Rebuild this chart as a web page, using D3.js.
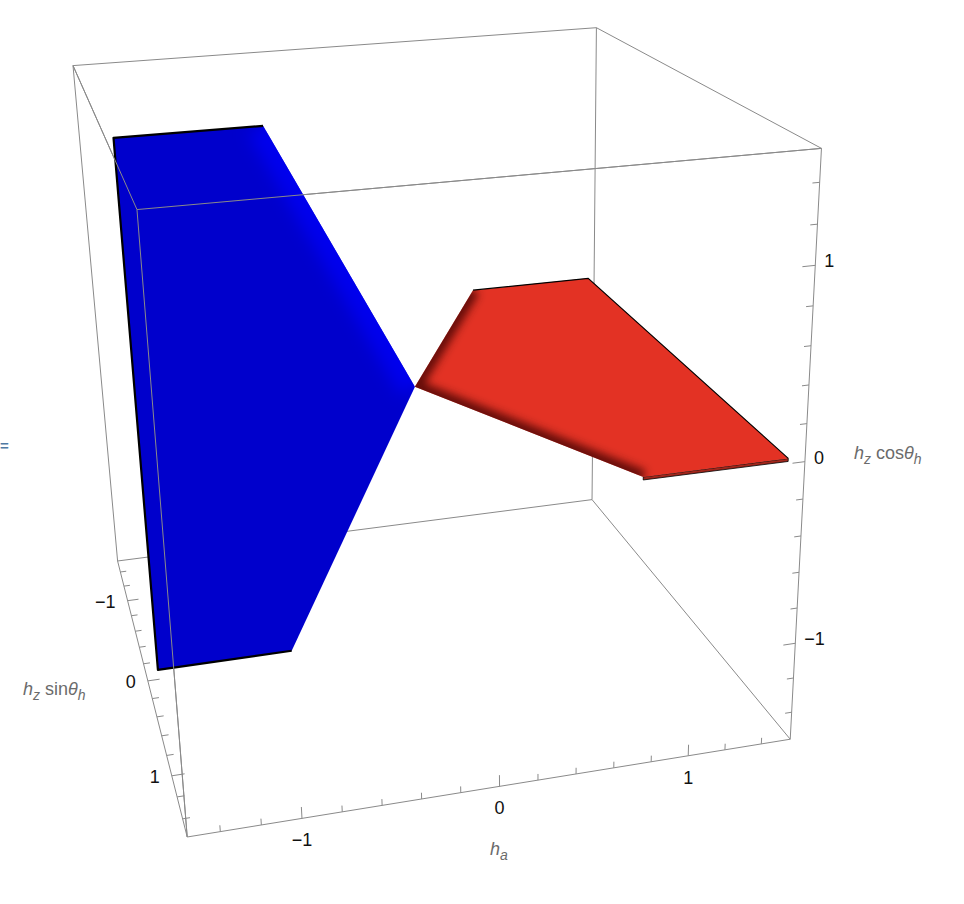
<!DOCTYPE html>
<html>
<script src="https://cdn.jsdelivr.net/npm/d3@7"></script>
<style>
  body { margin: 0; background: white; }
  text { font-family: "Liberation Sans", Arial, sans-serif; }
</style>
<body>
<svg width="964" height="904"></svg>
<script>
// plot range and ticks (same for the three axes)
const rangeMin = -1.56, rangeMax = 1.56;
const majorTicks = [-1, 0, 1];
const minorTicks = [-1.4, -1.2, -0.8, -0.6, -0.4, -0.2, 0.2, 0.4, 0.6, 0.8, 1.2, 1.4];
const tickLabels = ["\u22121", "0", "1"];

// blue sheet: h_a, h_z sin(theta_h), h_z cos(theta_h)
const blueHa  = [-1.5, -0.75, 0, -0.75, -1.5];
const blueSin = [0, 0, 0, 0, 0];
const blueCos = [1.5, 1.5, 0, -1.5, -1.5];
// red sheet
const redHa  = [0, 0.75, 1.5, 1.5, 0.75];
const redSin = [0, -1.5, -1.5, 1.5, 1.5];
const redCos = [0, 0, 0, 0, 0];

const svg = d3.select("svg");
const xs = d3.scaleLinear().domain([rangeMin, rangeMax]).range([-1, 1]);
const ys = xs.copy(), zs = xs.copy();

// where the corners of the unit box land on the page
const view = [
  [-1,-1, 1,  72,  66], [ 1,-1, 1, 597,  28], [ 1, 1, 1, 821, 148], [-1, 1, 1, 138, 209],
  [-1,-1,-1, 118, 561], [ 1,-1,-1, 592, 499], [ 1, 1,-1, 790, 740], [-1, 1,-1, 187, 837]
];

// least squares fit of a perspective camera to those corners
function fitCamera(pts) {
  const rows = [], rhs = [];
  pts.forEach(p => {
    const [X, Y, Z] = p, u = (p[3] - 480) / 400, v = (p[4] - 450) / 400;
    rows.push([X, Y, Z, 1, 0, 0, 0, 0, -u*X, -u*Y, -u*Z]); rhs.push(u);
    rows.push([0, 0, 0, 0, X, Y, Z, 1, -v*X, -v*Y, -v*Z]); rhs.push(v);
  });
  const n = 11;
  const A = d3.range(n).map(i => d3.range(n).map(j => d3.sum(rows, r => r[i]*r[j])));
  const b = d3.range(n).map(i => d3.sum(rows, (r, k) => r[i]*rhs[k]));
  for (let c = 0; c < n; c++) {
    let piv = c;
    for (let r = c + 1; r < n; r++) if (Math.abs(A[r][c]) > Math.abs(A[piv][c])) piv = r;
    [A[c], A[piv]] = [A[piv], A[c]]; [b[c], b[piv]] = [b[piv], b[c]];
    for (let r = c + 1; r < n; r++) {
      const f = A[r][c] / A[c][c];
      for (let k = c; k < n; k++) A[r][k] -= f * A[c][k];
      b[r] -= f * b[c];
    }
  }
  const p = new Array(n).fill(0);
  for (let r = n - 1; r >= 0; r--) {
    let s = b[r];
    for (let k = r + 1; k < n; k++) s -= A[r][k] * p[k];
    p[r] = s / A[r][r];
  }
  return p;
}
const cam = fitCamera(view);
function proj(x, y, z) {
  const X = xs(x), Y = ys(y), Z = zs(z);
  const w = cam[8]*X + cam[9]*Y + cam[10]*Z + 1;
  return [480 + 400 * (cam[0]*X + cam[1]*Y + cam[2]*Z + cam[3]) / w,
          450 + 400 * (cam[4]*X + cam[5]*Y + cam[6]*Z + cam[7]) / w];
}

const lo = rangeMin, hi = rangeMax;
const line = d3.line();
const closed = d3.line().curve(d3.curveLinearClosed);
const edgeColor = "#8a8a8a";

// box edges
const backEdges = [
  [[lo,lo,hi],[hi,lo,hi]], [[hi,lo,hi],[hi,hi,hi]], [[lo,lo,lo],[hi,lo,lo]], [[hi,lo,lo],[hi,hi,lo]],
  [[lo,lo,hi],[lo,lo,lo]], [[hi,lo,hi],[hi,lo,lo]], [[hi,hi,hi],[hi,hi,lo]],
  [[lo,hi,lo],[hi,hi,lo]], [[lo,lo,lo],[lo,hi,lo]]
];
const frontEdges = [
  [[lo,hi,hi],[hi,hi,hi]], [[lo,hi,hi],[lo,lo,hi]], [[lo,hi,hi],[lo,hi,lo]]
];
function drawEdges(g, edges) {
  g.selectAll("path").data(edges).join("path")
    .attr("d", e => line(e.map(p => proj(...p))))
    .attr("fill", "none").attr("stroke", edgeColor).attr("stroke-width", 1);
}
drawEdges(svg.append("g"), backEdges.concat(frontEdges));

// defs for the soft shading on the sheets
const defs = svg.append("defs");
defs.append("filter").attr("id", "soft").attr("x", "-20%").attr("y", "-20%").attr("width", "140%").attr("height", "140%")
  .append("feGaussianBlur").attr("stdDeviation", 4);
defs.append("filter").attr("id", "softer").attr("x", "-20%").attr("y", "-20%").attr("width", "140%").attr("height", "140%")
  .append("feGaussianBlur").attr("stdDeviation", 8);

const bluePts = blueHa.map((d, i) => proj(d, blueSin[i], blueCos[i]));
const redPts = redHa.map((d, i) => proj(d, redSin[i], redCos[i]));

defs.append("clipPath").attr("id", "clipBlue").append("path").attr("d", closed(bluePts));
defs.append("clipPath").attr("id", "clipRed").append("path").attr("d", closed(redPts));

// blue sheet
const gb = svg.append("g");
gb.append("path").attr("d", closed(bluePts)).attr("fill", "#0000cc");
gb.append("g").attr("clip-path", "url(#clipBlue)")
  .append("path").attr("d", line([bluePts[1], bluePts[2]]))
  .attr("fill", "none").attr("stroke", "#0000f6").attr("stroke-width", 34)
  .attr("stroke-opacity", 0.8).attr("filter", "url(#softer)");
gb.append("path").attr("d", line([bluePts[1], bluePts[0], bluePts[4], bluePts[3]]))
  .attr("fill", "none").attr("stroke", "#000").attr("stroke-width", 2.2).attr("stroke-linejoin", "round");

// red sheet, with a thin underside showing along the front edge
const gr = svg.append("g");
const redUnder = [proj(redHa[3], redSin[3], -0.016), proj(redHa[4], redSin[4], -0.016)];
gr.append("path").attr("d", closed([redPts[3], redPts[4], redUnder[1], redUnder[0]]))
  .attr("fill", "#a0261b").attr("stroke", "#000").attr("stroke-width", 0.8);
gr.append("path").attr("d", closed(redPts)).attr("fill", "#e33224");
gr.append("g").attr("clip-path", "url(#clipRed)")
  .append("path").attr("d", line([redPts[1], redPts[0], redPts[4]]))
  .attr("fill", "none").attr("stroke", "#3a0402").attr("stroke-width", 14)
  .attr("stroke-opacity", 0.75).attr("filter", "url(#soft)");
gr.append("path").attr("d", line([redPts[1], redPts[2], redPts[3]]))
  .attr("fill", "none").attr("stroke", "#000").attr("stroke-width", 1.1);

// edges in front of the sheets
drawEdges(svg.append("g"), frontEdges);

// ticks
const axes = [
  { pos: t => [t, hi, lo], dir: [0, 0, 1] },   // h_a along the bottom front edge
  { pos: t => [lo, t, lo], dir: [1, 0, 0] },   // h_z sin along the bottom left edge
  { pos: t => [hi, hi, t], dir: [-1, 0, 0] }   // h_z cos along the front right edge
];
const gt = svg.append("g");
axes.forEach(ax => {
  const ticks = majorTicks.map(t => ({ t, len: 0.065 })).concat(minorTicks.map(t => ({ t, len: 0.036 })));
  gt.append("g").selectAll("path").data(ticks).join("path")
    .attr("d", d => {
      const p = ax.pos(d.t);
      const q = p.map((c, k) => c + ax.dir[k] * d.len);
      return line([proj(...p), proj(...q)]);
    })
    .attr("stroke", edgeColor).attr("stroke-width", 1).attr("fill", "none");
});

// tick labels
const gl = svg.append("g").attr("font-size", 18).attr("fill", "#111");
gl.selectAll(".xl").data(majorTicks).join("text").attr("class", "xl")
  .attr("x", d => proj(...axes[0].pos(d))[0])
  .attr("y", d => proj(...axes[0].pos(d))[1] + 28)
  .attr("text-anchor", "middle").text((d, i) => tickLabels[i]);
gl.selectAll(".yl").data(majorTicks).join("text").attr("class", "yl")
  .attr("x", d => proj(...axes[1].pos(d))[0] - 12)
  .attr("y", d => proj(...axes[1].pos(d))[1] + 7)
  .attr("text-anchor", "end").text((d, i) => tickLabels[i]);
gl.selectAll(".zl").data(majorTicks).join("text").attr("class", "zl")
  .attr("x", d => proj(...axes[2].pos(d))[0] + 9)
  .attr("y", d => proj(...axes[2].pos(d))[1] + 2)
  .attr("text-anchor", "start").text((d, i) => tickLabels[i]);

// axis labels
function axisLabel(x, y, anchor, parts) {
  const t = svg.append("text").attr("x", x).attr("y", y).attr("text-anchor", anchor)
    .attr("font-size", 18).attr("fill", "#6b6b6b");
  let shift = 0;
  parts.forEach(p => {
    const dy = (p.sub ? 5 : 0) - shift;
    shift += dy;
    t.append("tspan").attr("dy", dy)
      .attr("font-style", p.it ? "italic" : "normal")
      .attr("font-size", p.sub ? 14 : 18).text(p.s);
  });
}
axisLabel(499, 855, "middle", [{ s: "h", it: 1 }, { s: "a", it: 1, sub: 1 }]);
axisLabel(23, 695, "start", [{ s: "h", it: 1 }, { s: "z", it: 1, sub: 1 }, { s: " sin" }, { s: "\u03b8", it: 1 }, { s: "h", it: 1, sub: 1 }]);
axisLabel(854, 459, "start", [{ s: "h", it: 1 }, { s: "z", it: 1, sub: 1 }, { s: " cos" }, { s: "\u03b8", it: 1 }, { s: "h", it: 1, sub: 1 }]);

// stray "=" from the notebook cell
svg.append("text").attr("x", 0).attr("y", 451).attr("font-size", 15).attr("font-weight", "bold")
  .attr("fill", "#4f79a3").text("=");
</script>
</body>
</html>
